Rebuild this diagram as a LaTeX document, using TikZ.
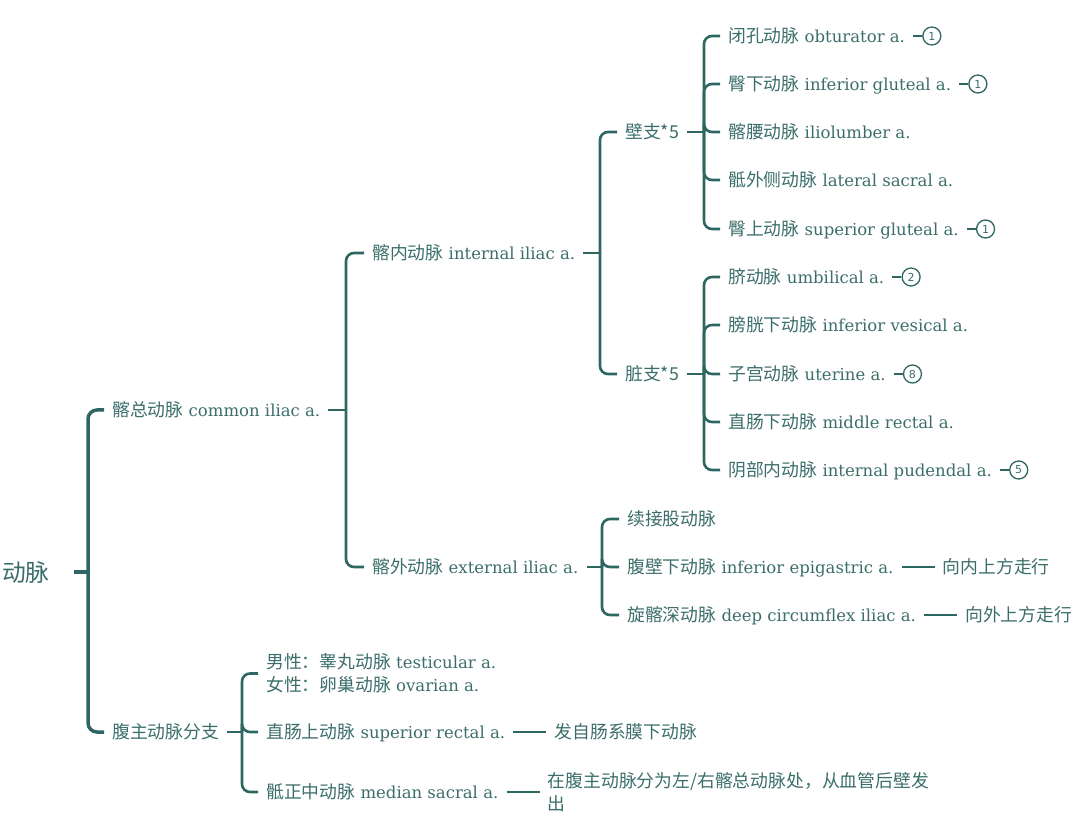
\documentclass[tikz,border=0pt]{standalone}
\usepackage{fontspec}
\setmainfont{DejaVu Serif}
\newfontfamily\cjk[Scale=1.08]{Noto Sans CJK SC}
\newfontfamily\numfont{DejaVu Sans}
\usetikzlibrary{calc,positioning}
\definecolor{tc}{HTML}{3B6E6A}
\definecolor{lc}{HTML}{2E6662}
\tikzset{
  lbl/.style={anchor=west, inner xsep=8pt, inner ysep=0pt, text height=13pt, text depth=0pt, text=tc, font=\fontsize{16.5}{23}\selectfont},
  mlbl/.style={anchor=west, inner xsep=8pt, inner ysep=0pt, align=left, text=tc, font=\fontsize{16.5}{23}\selectfont},
  br/.style={draw=lc, line width=2.6pt, rounded corners=8pt},
  rootbr/.style={draw=lc, line width=3.5pt, rounded corners=9pt},
  thin/.style={draw=lc, line width=2.2pt},
  num/.style={circle, draw=lc, line width=1.3pt, minimum size=18pt, inner sep=0pt, text=tc, font=\fontsize{11}{11}\numfont},
  tick/.style={draw=lc, line width=1.6pt},
}
\begin{document}
\begin{tikzpicture}[x=1pt,y=-1pt]
\useasboundingbox (0,0) rectangle (1080,818);
% root
\node[anchor=west, inner xsep=24pt, inner ysep=0pt, text height=18pt, text depth=0pt, text=tc, font=\fontsize{22}{26}\cjk] (root) at (-22,572) {动脉};
\coordinate (J0) at (88,572);
% level 1
\node[lbl] (ci) at (104,410) {{\cjk 髂总动脉} common iliac a.};
\node[lbl] (ab) at (104,732) {{\cjk 腹主动脉分支}};
% level 2
\coordinate (J1) at (346,410);
\node[lbl] (ii) at (364,253) {{\cjk 髂内动脉} internal iliac a.};
\node[lbl] (ei) at (364,567) {{\cjk 髂外动脉} external iliac a.};
\coordinate (J2) at (242,732);
\node[mlbl] (mf) at (258,673.5) {{\cjk 男性：睾丸动脉} testicular a.\\{\cjk 女性：卵巢动脉} ovarian a.};
\node[lbl] (sr) at (258,732) {{\cjk 直肠上动脉} superior rectal a.};
\node[lbl] (ms) at (258,792) {{\cjk 骶正中动脉} median sacral a.};
\node[lbl, right=33pt of sr] (srn) {{\cjk 发自肠系膜下动脉}};
\node[mlbl, right=33pt of ms] (msn) {{\cjk 在腹主动脉分为左/右髂总动脉处，从血管后壁发}\\{\cjk 出}};
% level 3
\coordinate (J3) at (600,253);
\node[lbl] (bz) at (617,132) {{\cjk 壁支*5}};
\node[lbl] (zz) at (617,374) {{\cjk 脏支*5}};
\coordinate (J4) at (602,567);
\node[lbl] (xj) at (619,519) {{\cjk 续接股动脉}};
\node[lbl] (fb) at (619,567) {{\cjk 腹壁下动脉} inferior epigastric a.};
\node[lbl] (xs) at (619,615) {{\cjk 旋髂深动脉} deep circumflex iliac a.};
\node[lbl, right=33pt of fb] (fbn) {{\cjk 向内上方走行}};
\node[lbl, right=33pt of xs] (xsn) {{\cjk 向外上方走行}};
% leaves
\coordinate (J5) at (704,132);
\coordinate (J6) at (704,374);
\node[lbl] (a1) at (720,36) {{\cjk 闭孔动脉} obturator a.};
\node[lbl] (a2) at (720,84) {{\cjk 臀下动脉} inferior gluteal a.};
\node[lbl] (a3) at (720,132) {{\cjk 髂腰动脉} iliolumber a.};
\node[lbl] (a4) at (720,180) {{\cjk 骶外侧动脉} lateral sacral a.};
\node[lbl] (a5) at (720,229) {{\cjk 臀上动脉} superior gluteal a.};
\node[lbl] (b1) at (720,277) {{\cjk 脐动脉} umbilical a.};
\node[lbl] (b2) at (720,325) {{\cjk 膀胱下动脉} inferior vesical a.};
\node[lbl] (b3) at (720,374) {{\cjk 子宫动脉} uterine a.};
\node[lbl] (b4) at (720,422) {{\cjk 直肠下动脉} middle rectal a.};
\node[lbl] (b5) at (720,470) {{\cjk 阴部内动脉} internal pudendal a.};
% circled numbers
\node[num, right=9pt of a1] (c1) {1};
\node[num, right=9pt of a2] (c2) {1};
\node[num, right=9pt of a5] (c5) {1};
\node[num, right=9pt of b1] (d1) {2};
\node[num, right=9pt of b3] (d3) {8};
\node[num, right=9pt of b5] (d5) {5};
% connectors
\draw[rootbr] (root.east) -- (J0);
\draw[rootbr] (J0) |- (ci.west);
\draw[rootbr] (J0) |- (ab.west);
\draw[br] (ci.east) -- (J1);
\draw[br] (J1) |- (ii.west);
\draw[br] (J1) |- (ei.west);
\draw[br] (ab.east) -- (J2);
\draw[br] (J2) |- (mf.west);
\draw[br] (J2) |- (sr.west);
\draw[br] (J2) |- (ms.west);
\draw[br] (ii.east) -- (J3);
\draw[br] (J3) |- (bz.west);
\draw[br] (J3) |- (zz.west);
\draw[br] (ei.east) -- (J4);
\draw[br] (J4) |- (xj.west);
\draw[br] (J4) |- (fb.west);
\draw[br] (J4) |- (xs.west);
\draw[br] (bz.east) -- (J5);
\foreach \n in {a1,a2,a3,a4,a5} \draw[br] (J5) |- (\n.west);
\draw[br] (zz.east) -- (J6);
\foreach \n in {b1,b2,b3,b4,b5} \draw[br] (J6) |- (\n.west);
\draw[thin] (fb.east) -- (fbn.west);
\draw[thin] (xs.east) -- (xsn.west);
\draw[thin] (sr.east) -- (srn.west);
\draw[thin] (ms.east) -- (msn.west);
\draw[tick] (a1.east) -- (c1.west);
\draw[tick] (a2.east) -- (c2.west);
\draw[tick] (a5.east) -- (c5.west);
\draw[tick] (b1.east) -- (d1.west);
\draw[tick] (b3.east) -- (d3.west);
\draw[tick] (b5.east) -- (d5.west);
\end{tikzpicture}
\end{document}
